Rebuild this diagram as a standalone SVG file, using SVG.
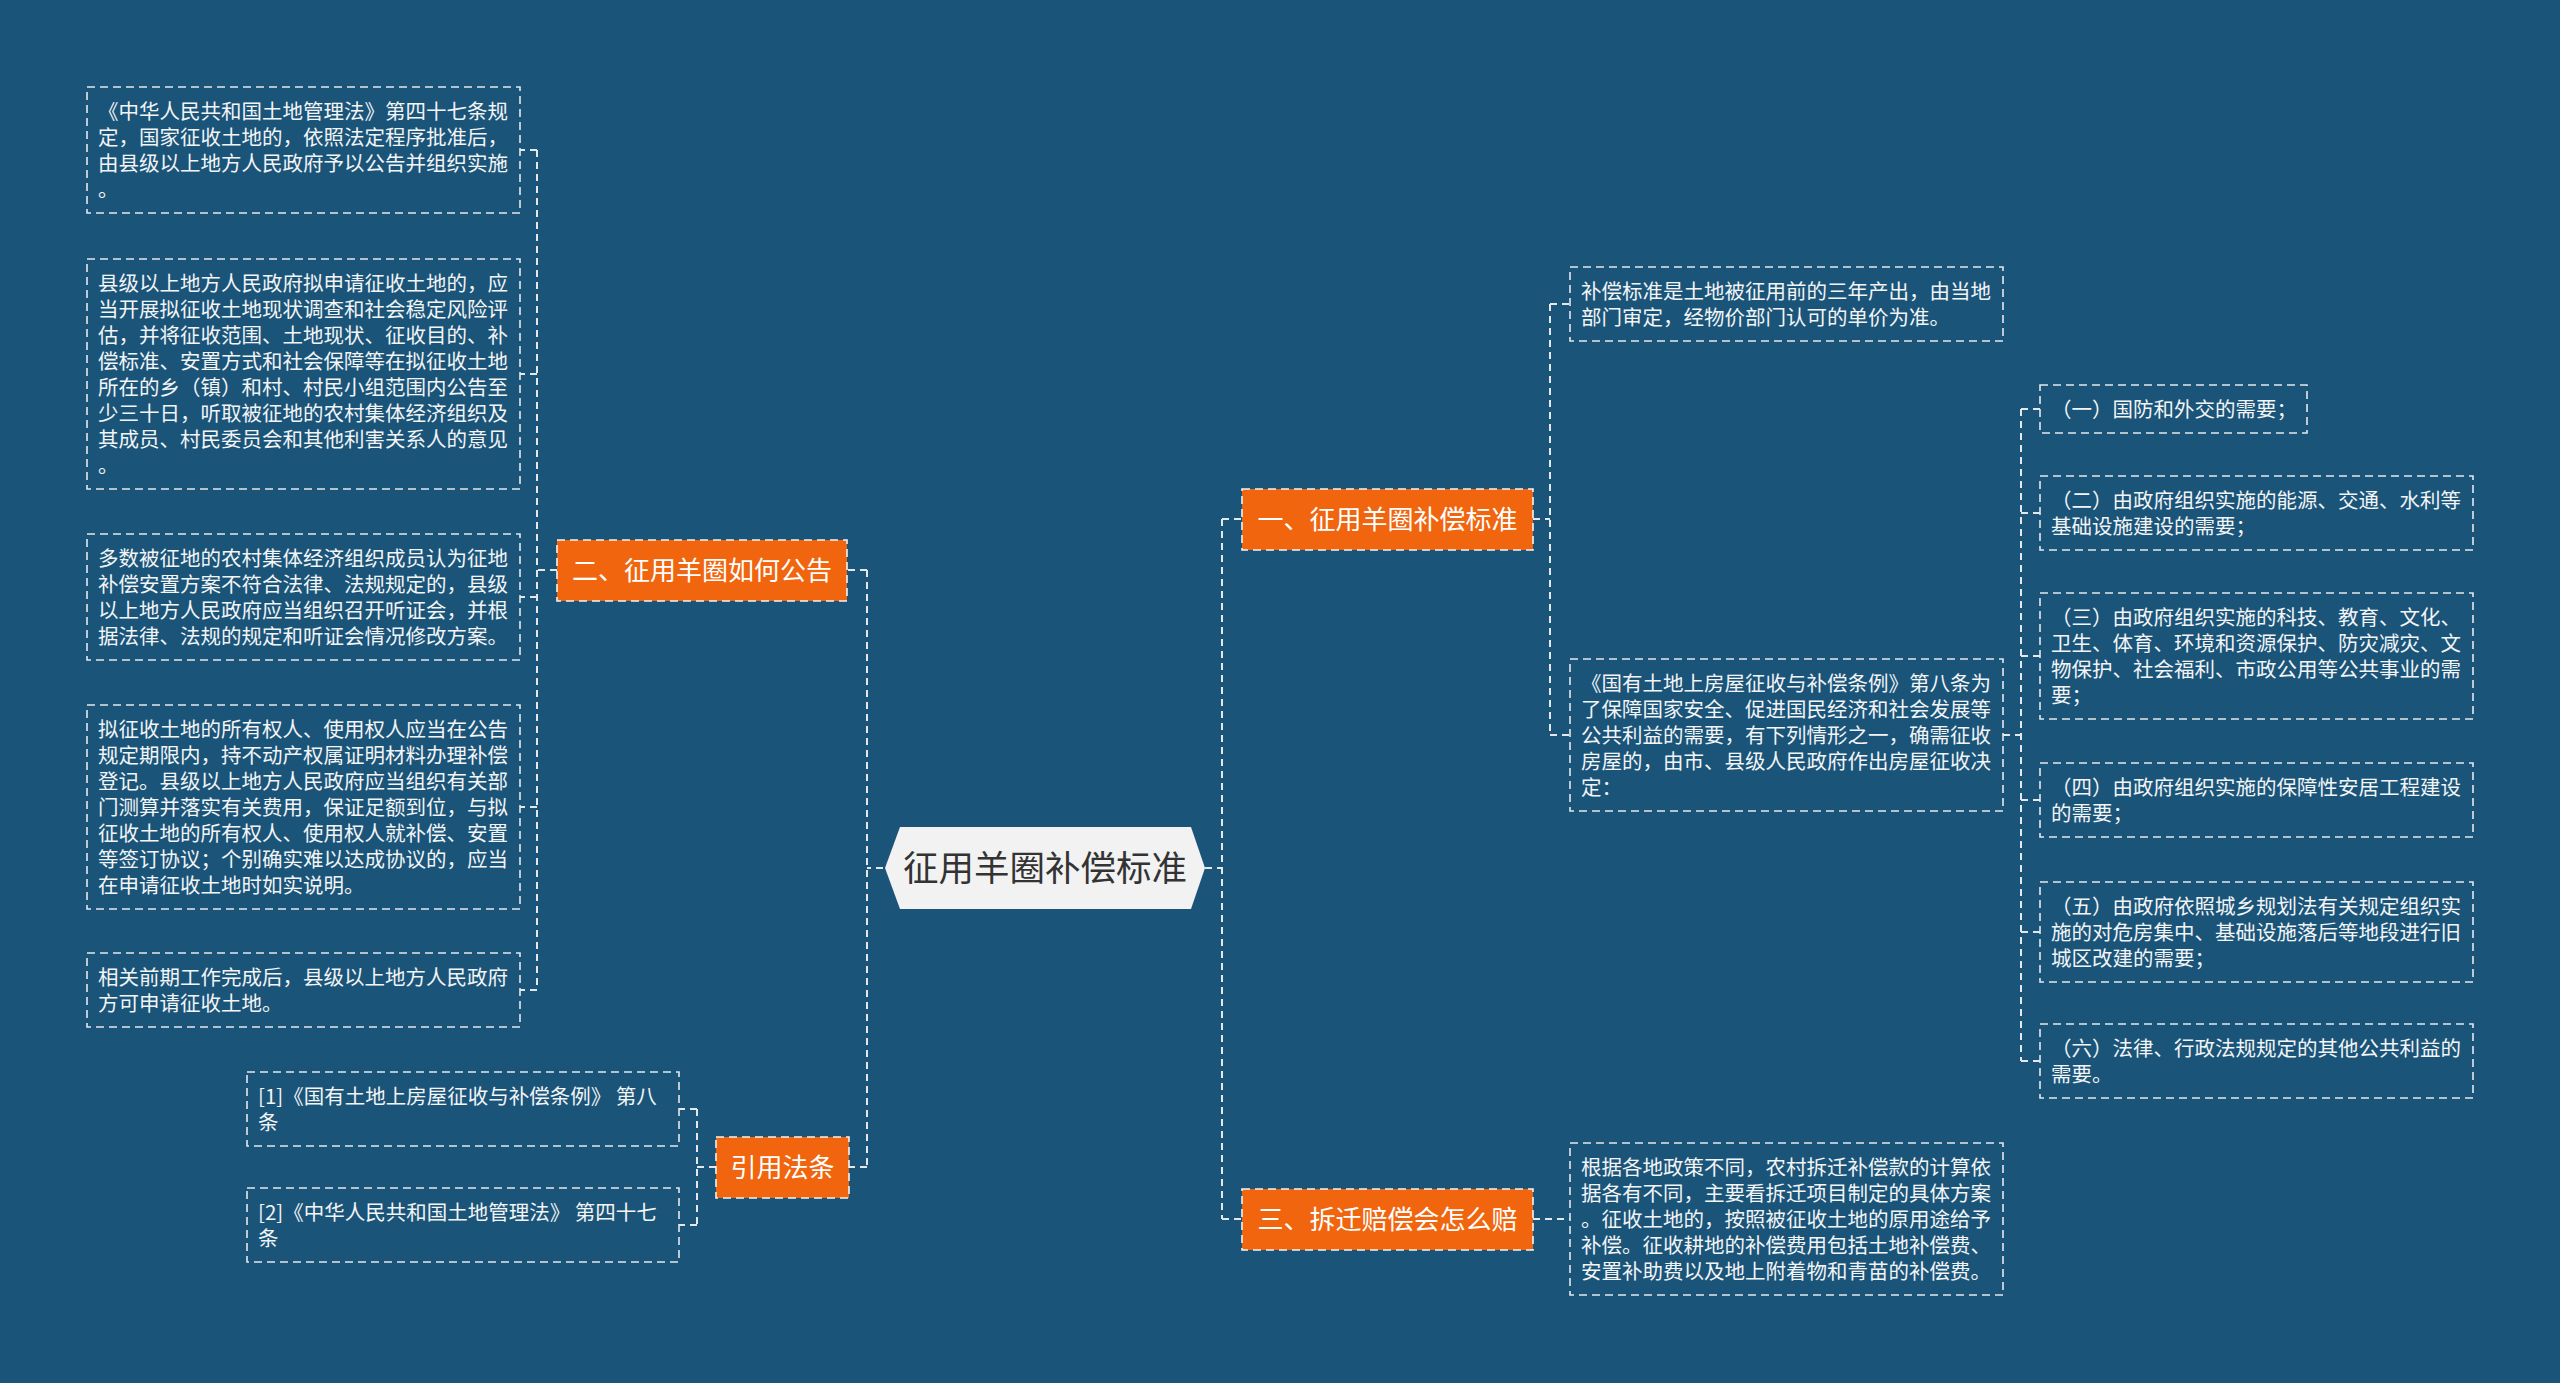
<svg xmlns="http://www.w3.org/2000/svg" width="2560" height="1383" viewBox="0 0 2560 1383">
<style>
.box{fill:none;stroke:#e4e8ec;stroke-width:1.6;stroke-dasharray:8 5}
.ob{fill:#f0650e;stroke:#f4f4f4;stroke-width:1.6;stroke-dasharray:8 5}
.t{font-family:"Noto Sans CJK SC","Noto Sans",sans-serif;font-size:20.5px;fill:#f2f4f6}
.ot{font-family:"Noto Sans CJK SC","Noto Sans",sans-serif;font-size:26px;fill:#ffffff;text-anchor:middle}
.ct{font-family:"Noto Sans CJK SC","Noto Sans",sans-serif;font-size:35.5px;fill:#333333;text-anchor:middle}
.c{fill:none;stroke:#e4e8ec;stroke-width:2;stroke-dasharray:7 5}
</style>
<rect width="2560" height="1383" fill="#1b5479"/>
<g id="connectors">
<path class="c" d="M883 868H867M867 570V1167M867 570H847M867 1167H849"/>
<path class="c" d="M1205 868H1222M1222 519V1219M1222 519H1242M1222 1219H1242"/>
<path class="c" d="M557 570H537M537 150V990M537 150H520M537 374H520M537 597H520M537 807H520M537 990H520"/>
<path class="c" d="M716 1167H697M697 1109V1225M697 1109H679M697 1225H679"/>
<path class="c" d="M1533 519H1550M1550 304V735M1550 304H1570M1550 735H1570"/>
<path class="c" d="M2003 735H2021M2021 409V1061M2021 409H2040M2021 513H2040M2021 656H2040M2021 800H2040M2021 932H2040M2021 1061H2040"/>
<path class="c" d="M1533 1219H1570"/>
</g>
<g id="root">
<polygon points="885,868 900,827 1191,827 1205,868 1191,909 900,909" fill="#f2f2f2"/>
<text class="ct" x="1045" y="881">征用羊圈补偿标准</text>
</g>
<g id="n1">
<rect class="ob" x="1242" y="489" width="291" height="61"/>
<text class="ot" x="1387.5" y="528.5">一、征用羊圈补偿标准</text>
</g>
<g id="n2">
<rect class="ob" x="557" y="540" width="290" height="61"/>
<text class="ot" x="702" y="579.5">二、征用羊圈如何公告</text>
</g>
<g id="n3">
<rect class="ob" x="1242" y="1189" width="291" height="61"/>
<text class="ot" x="1387.5" y="1228.5">三、拆迁赔偿会怎么赔</text>
</g>
<g id="n4">
<rect class="ob" x="716" y="1137" width="133" height="61"/>
<text class="ot" x="782.5" y="1176.5">引用法条</text>
</g>
<g id="l1">
<rect class="box" x="87" y="87" width="433" height="126"/>
<text class="t" x="98" y="118.5"><tspan x="98">《中华人民共和国土地管理法》第四十七条规</tspan><tspan x="98" dy="26">定，国家征收土地的，依照法定程序批准后，</tspan><tspan x="98" dy="26">由县级以上地方人民政府予以公告并组织实施</tspan><tspan x="98" dy="26">。</tspan></text>
</g>
<g id="l2">
<rect class="box" x="87" y="259" width="433" height="230"/>
<text class="t" x="98" y="290.5"><tspan x="98">县级以上地方人民政府拟申请征收土地的，应</tspan><tspan x="98" dy="26">当开展拟征收土地现状调查和社会稳定风险评</tspan><tspan x="98" dy="26">估，并将征收范围、土地现状、征收目的、补</tspan><tspan x="98" dy="26">偿标准、安置方式和社会保障等在拟征收土地</tspan><tspan x="98" dy="26">所在的乡（镇）和村、村民小组范围内公告至</tspan><tspan x="98" dy="26">少三十日，听取被征地的农村集体经济组织及</tspan><tspan x="98" dy="26">其成员、村民委员会和其他利害关系人的意见</tspan><tspan x="98" dy="26">。</tspan></text>
</g>
<g id="l3">
<rect class="box" x="87" y="534" width="433" height="126"/>
<text class="t" x="98" y="565.5"><tspan x="98">多数被征地的农村集体经济组织成员认为征地</tspan><tspan x="98" dy="26">补偿安置方案不符合法律、法规规定的，县级</tspan><tspan x="98" dy="26">以上地方人民政府应当组织召开听证会，并根</tspan><tspan x="98" dy="26">据法律、法规的规定和听证会情况修改方案。</tspan></text>
</g>
<g id="l4">
<rect class="box" x="87" y="705" width="433" height="204"/>
<text class="t" x="98" y="736.5"><tspan x="98">拟征收土地的所有权人、使用权人应当在公告</tspan><tspan x="98" dy="26">规定期限内，持不动产权属证明材料办理补偿</tspan><tspan x="98" dy="26">登记。县级以上地方人民政府应当组织有关部</tspan><tspan x="98" dy="26">门测算并落实有关费用，保证足额到位，与拟</tspan><tspan x="98" dy="26">征收土地的所有权人、使用权人就补偿、安置</tspan><tspan x="98" dy="26">等签订协议；个别确实难以达成协议的，应当</tspan><tspan x="98" dy="26">在申请征收土地时如实说明。</tspan></text>
</g>
<g id="l5">
<rect class="box" x="87" y="953" width="433" height="74"/>
<text class="t" x="98" y="984.5"><tspan x="98">相关前期工作完成后，县级以上地方人民政府</tspan><tspan x="98" dy="26">方可申请征收土地。</tspan></text>
</g>
<g id="ref1">
<rect class="box" x="247" y="1072" width="432" height="74"/>
<text class="t" x="258" y="1103.5"><tspan x="258">[1]《国有土地上房屋征收与补偿条例》 第八</tspan><tspan x="258" dy="26">条</tspan></text>
</g>
<g id="ref2">
<rect class="box" x="247" y="1188" width="432" height="74"/>
<text class="t" x="258" y="1219.5"><tspan x="258">[2]《中华人民共和国土地管理法》 第四十七</tspan><tspan x="258" dy="26">条</tspan></text>
</g>
<g id="r1">
<rect class="box" x="1570" y="267" width="433" height="74"/>
<text class="t" x="1581" y="298.5"><tspan x="1581">补偿标准是土地被征用前的三年产出，由当地</tspan><tspan x="1581" dy="26">部门审定，经物价部门认可的单价为准。</tspan></text>
</g>
<g id="r2">
<rect class="box" x="1570" y="659" width="433" height="152"/>
<text class="t" x="1581" y="690.5"><tspan x="1581">《国有土地上房屋征收与补偿条例》第八条为</tspan><tspan x="1581" dy="26">了保障国家安全、促进国民经济和社会发展等</tspan><tspan x="1581" dy="26">公共利益的需要，有下列情形之一，确需征收</tspan><tspan x="1581" dy="26">房屋的，由市、县级人民政府作出房屋征收决</tspan><tspan x="1581" dy="26">定：</tspan></text>
</g>
<g id="r3">
<rect class="box" x="1570" y="1143" width="433" height="152"/>
<text class="t" x="1581" y="1174.5"><tspan x="1581">根据各地政策不同，农村拆迁补偿款的计算依</tspan><tspan x="1581" dy="26">据各有不同，主要看拆迁项目制定的具体方案</tspan><tspan x="1581" dy="26">。征收土地的，按照被征收土地的原用途给予</tspan><tspan x="1581" dy="26">补偿。征收耕地的补偿费用包括土地补偿费、</tspan><tspan x="1581" dy="26">安置补助费以及地上附着物和青苗的补偿费。</tspan></text>
</g>
<g id="s1">
<rect class="box" x="2040" y="385" width="267" height="48"/>
<text class="t" x="2051" y="416.5">（一）国防和外交的需要；</text>
</g>
<g id="s2">
<rect class="box" x="2040" y="476" width="433" height="74"/>
<text class="t" x="2051" y="507.5"><tspan x="2051">（二）由政府组织实施的能源、交通、水利等</tspan><tspan x="2051" dy="26">基础设施建设的需要；</tspan></text>
</g>
<g id="s3">
<rect class="box" x="2040" y="593" width="433" height="126"/>
<text class="t" x="2051" y="624.5"><tspan x="2051">（三）由政府组织实施的科技、教育、文化、</tspan><tspan x="2051" dy="26">卫生、体育、环境和资源保护、防灾减灾、文</tspan><tspan x="2051" dy="26">物保护、社会福利、市政公用等公共事业的需</tspan><tspan x="2051" dy="26">要；</tspan></text>
</g>
<g id="s4">
<rect class="box" x="2040" y="763" width="433" height="74"/>
<text class="t" x="2051" y="794.5"><tspan x="2051">（四）由政府组织实施的保障性安居工程建设</tspan><tspan x="2051" dy="26">的需要；</tspan></text>
</g>
<g id="s5">
<rect class="box" x="2040" y="882" width="433" height="100"/>
<text class="t" x="2051" y="913.5"><tspan x="2051">（五）由政府依照城乡规划法有关规定组织实</tspan><tspan x="2051" dy="26">施的对危房集中、基础设施落后等地段进行旧</tspan><tspan x="2051" dy="26">城区改建的需要；</tspan></text>
</g>
<g id="s6">
<rect class="box" x="2040" y="1024" width="433" height="74"/>
<text class="t" x="2051" y="1055.5"><tspan x="2051">（六）法律、行政法规规定的其他公共利益的</tspan><tspan x="2051" dy="26">需要。</tspan></text>
</g>
</svg>
